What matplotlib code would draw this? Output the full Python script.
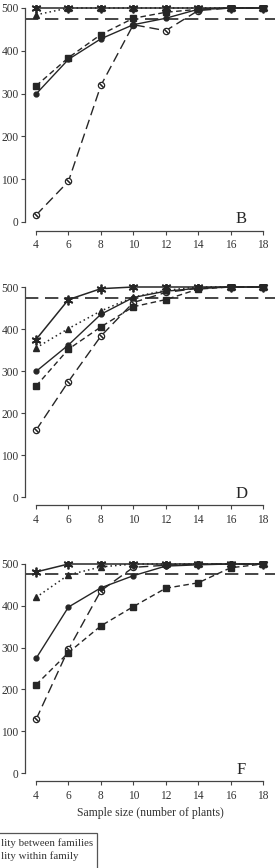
import matplotlib.pyplot as plt
from matplotlib.patches import Rectangle

plt.rcParams['font.family'] = ['Liberation Serif', 'DejaVu Serif']

# sample sizes
sizes = [4, 6, 8, 10, 12, 14, 16, 18]
threshold = 475

# panel B
b_star = [500, 500, 500, 500, 500, 500, 500, 500]
b_tri = [484, 500, 500, 500, 500, 500, 500, 500]
b_dot = [299, 380, 428, 461, 476, 497, 500, 500]
b_sq = [318, 384, 438, 476, 490, 497, 500, 500]
b_open = [16, 95, 319, 461, 447, 494, 500, 500]

# panel D
d_star = [375, 470, 496, 500, 500, 500, 500, 500]
d_tri = [355, 401, 443, 476, 492, 500, 500, 500]
d_dot = [299, 362, 435, 475, 490, 497, 500, 500]
d_sq = [264, 352, 405, 453, 470, 495, 500, 500]
d_open = [159, 275, 383, 463, 487, 497, 500, 500]

# panel F
f_star = [481, 500, 500, 500, 500, 500, 500, 500]
f_tri = [420, 474, 493, 500, 500, 500, 500, 500]
f_dot = [274, 397, 443, 472, 495, 498, 500, 500]
f_sq = [211, 288, 352, 398, 442, 455, 491, 500]
f_open = [128, 296, 436, 492, 497, 500, 500, 500]

# legend (left part is cut off in the picture)
legend_lines = ["lity between families", "lity within family"]

panels = [
    ("B", b_star, b_tri, b_dot, b_sq, b_open, 8, 222),
    ("D", d_star, d_tri, d_dot, d_sq, d_open, 287, 497),
    ("F", f_star, f_tri, f_dot, f_sq, f_open, 564, 773),
]

W, H = 275, 868
fig = plt.figure(figsize=(W / 100, H / 100), dpi=100)

ink = '#262626'
ylo, yhi = -20, 506
xlo, xhi = 3.32, 18.74

for letter, star, tri, dot, sq, opn, p500, p0 in panels:
    scale = (p0 - p500) / 500.0
    top_px = p500 - (yhi - 500) * scale
    bot_px = p0 + (0 - ylo) * scale
    ax = fig.add_axes([25 / W, 1 - bot_px / H, 250 / W, (bot_px - top_px) / H])
    ax.set_xlim(xlo, xhi)
    ax.set_ylim(ylo, yhi)

    ax.axhline(threshold, color=ink, lw=1.2, dashes=(8, 4), zorder=1)

    ax.plot(sizes, opn, color=ink, lw=1.0, dashes=(7, 3.5),
            marker='o', ms=4.5, mfc='white', mec=ink, mew=0.9, zorder=2)
    ax.plot(sizes, opn, ls='none', marker=(2, 2, 45), ms=4.5, mec=ink, mew=0.8, zorder=2.1)
    ax.plot(sizes, sq, color=ink, lw=1.0, dashes=(4, 2.5),
            marker='s', ms=4, mfc=ink, mec=ink, zorder=3)
    ax.plot(sizes, dot, color=ink, lw=1.0, ls='-',
            marker='o', ms=3.5, mfc=ink, mec=ink, zorder=4)
    ax.plot(sizes, tri, color=ink, lw=1.1, dashes=(1, 2),
            marker='^', ms=4, mfc=ink, mec=ink, zorder=5)
    ax.plot(sizes, star, color=ink, lw=1.1, ls='-',
            marker=(6, 2, 0), ms=7, mec=ink, mew=1.3, zorder=6)

    ax.text(16.65, 8, letter, fontsize=12, ha='center', va='center', color=ink)

    for s in ['top', 'right']:
        ax.spines[s].set_visible(False)
    ax.spines['left'].set_bounds(0, 500)
    ax.spines['bottom'].set_bounds(4, 18)
    for s in ['left', 'bottom']:
        ax.spines[s].set_color('#444444')
        ax.spines[s].set_linewidth(0.9)
    ax.set_xticks(sizes)
    ax.set_yticks([0, 100, 200, 300, 400, 500])
    ax.tick_params(axis='both', direction='out', length=3, width=0.8,
                   colors='#444444', labelcolor='#333333', labelsize=8.3)
    ax.tick_params(axis='y', pad=1.5)
    ax.tick_params(axis='x', pad=3)
    ax.patch.set_visible(False)
    if letter == "F":
        ax.set_xlabel("Sample size (number of plants)", fontsize=8.5, color='#333333', labelpad=4)

# legend box, cut off at the left of the picture
fig.patches.append(Rectangle((-20 / W, -5 / H), 117 / W, (868 - 833 + 5) / H,
                             transform=fig.transFigure, fill=False,
                             ec='#555555', lw=0.9))
fig.text(1 / W, 1 - 843 / H, legend_lines[0], fontsize=7.8,
         ha='left', va='center', color='#333333')
fig.text(1 / W, 1 - 856 / H, legend_lines[1], fontsize=7.8,
         ha='left', va='center', color='#333333')

fig.savefig("out.png", dpi=100)
